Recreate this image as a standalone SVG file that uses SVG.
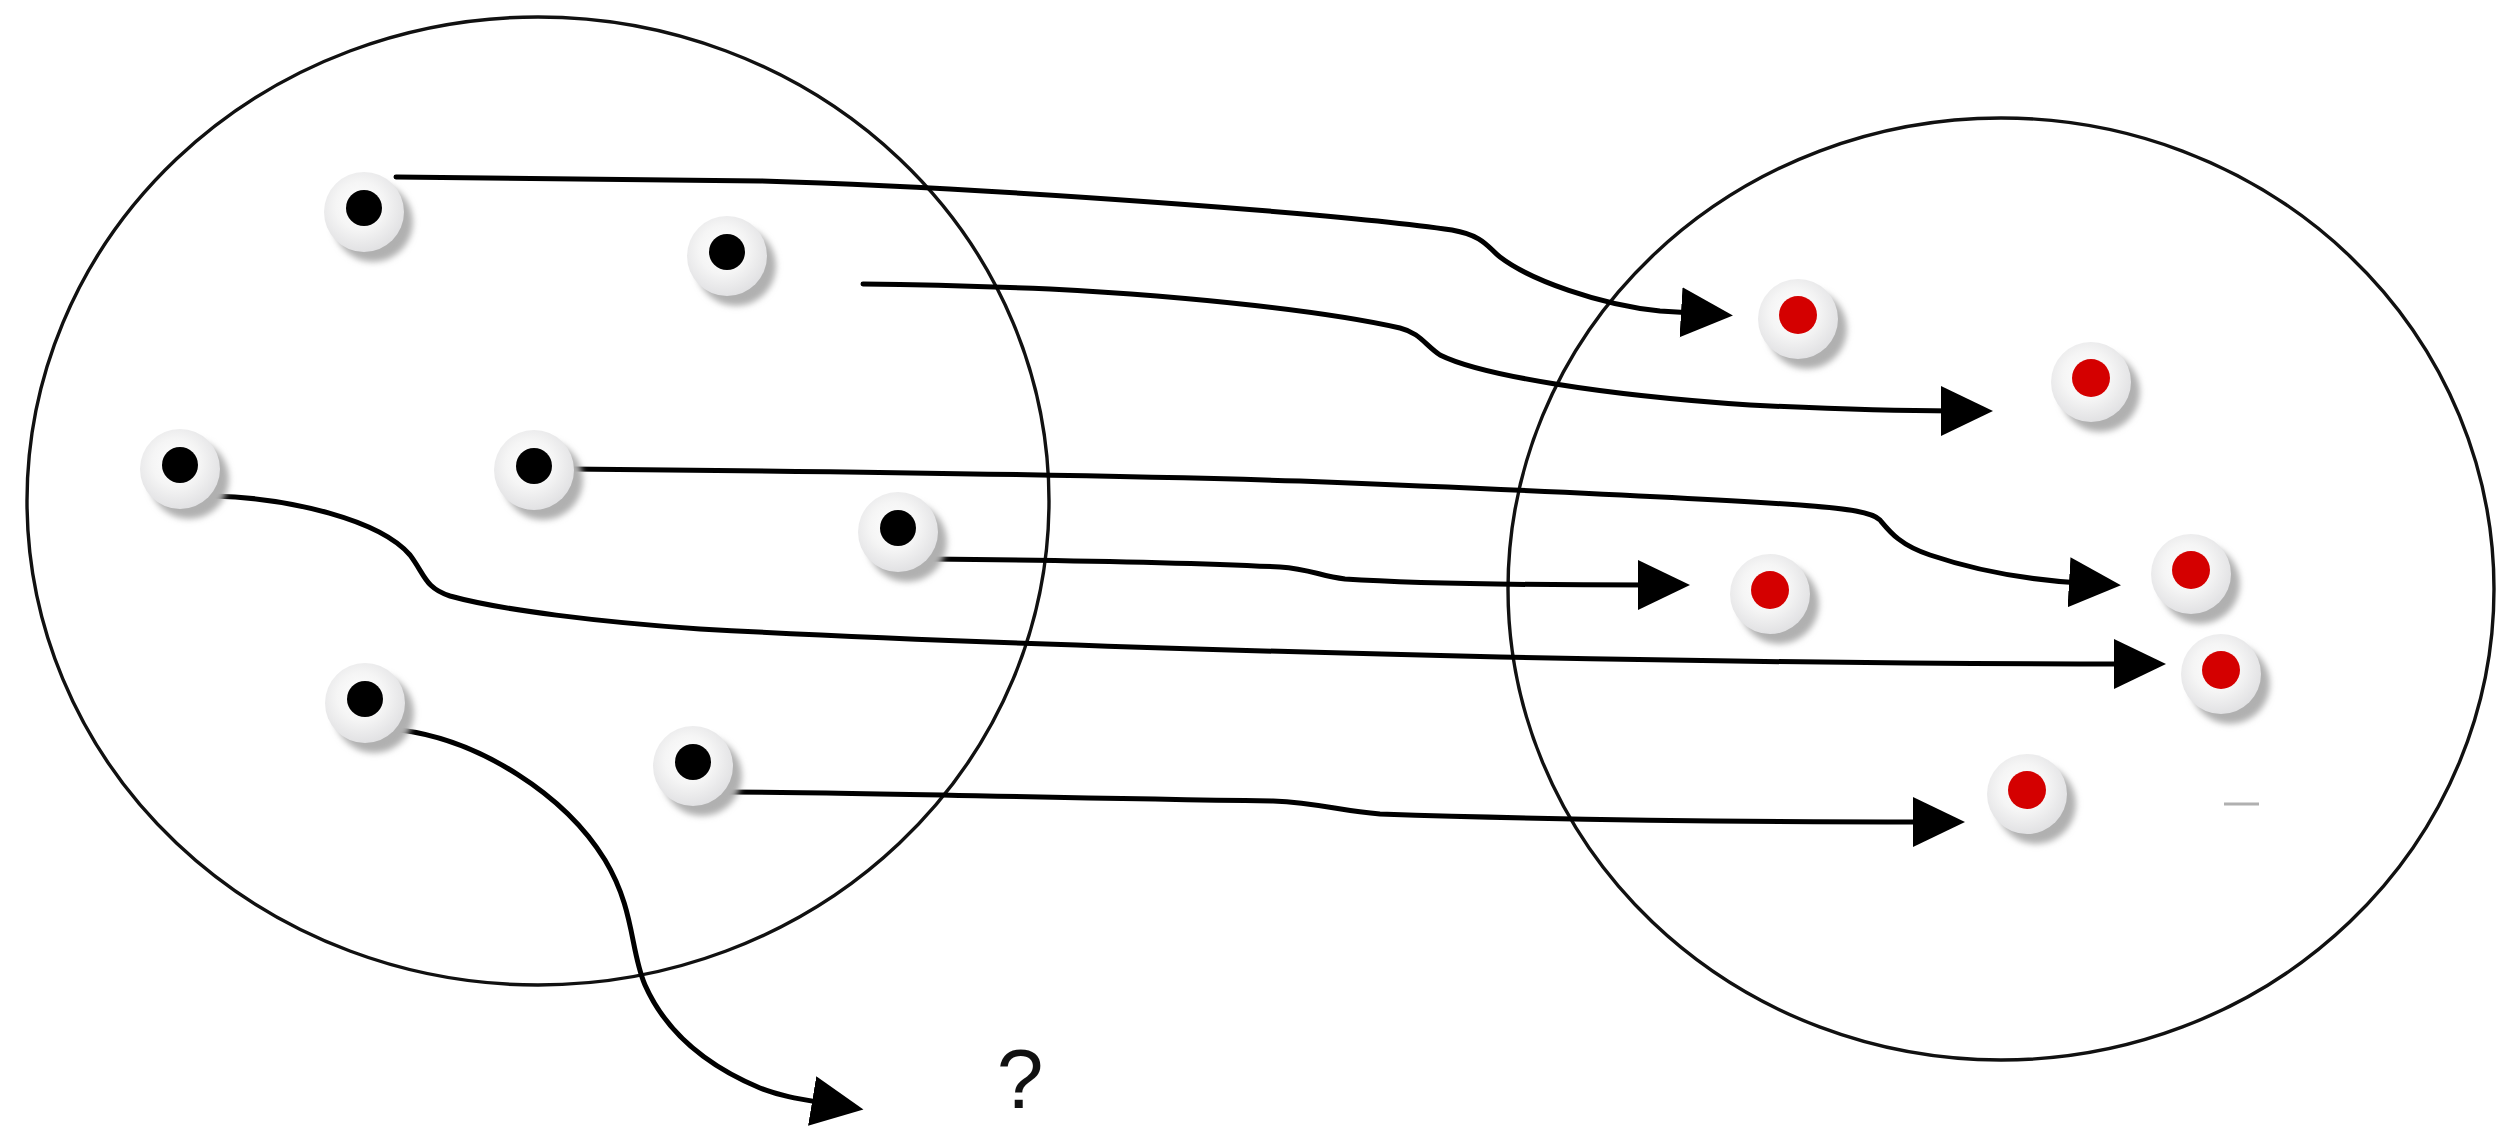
<svg xmlns="http://www.w3.org/2000/svg" width="2496" height="1139" viewBox="0 0 2496 1139">
<style>
.set{fill:none;stroke:#111;stroke-width:3.4}
.conn{fill:none;stroke:#000;stroke-width:5;stroke-linecap:round;stroke-linejoin:round}
.sh{fill:#b0b0b0;filter:url(#blur)}
.disk{fill:url(#dg)}
.bdot{fill:#000}
.rdot{fill:#d40000}
.q{font-family:"Liberation Sans",Arial,sans-serif;font-size:84px;fill:#111}
</style>
<defs>
<filter id="blur" x="-50%" y="-50%" width="200%" height="200%"><feGaussianBlur stdDeviation="3"/></filter>
<radialGradient id="dg" cx="0.45" cy="0.42" r="0.6">
<stop offset="0" stop-color="#ffffff"/>
<stop offset="0.5" stop-color="#f5f5f5"/>
<stop offset="1" stop-color="#e0e0e2"/>
</radialGradient>
<marker id="arr" markerUnits="userSpaceOnUse" markerWidth="54" markerHeight="52" refX="12" refY="25" orient="auto" viewBox="0 0 54 52">
<path d="M0,0 L52,25 L0,50 Z" fill="#000"/>
</marker>
</defs>
<rect width="2496" height="1139" fill="#fff"/>
<g id="sets">
<ellipse id="domain" class="set" cx="538" cy="501" rx="511" ry="484"/>
<ellipse id="codomain" class="set" cx="2001" cy="589" rx="493" ry="471"/>
</g>
<g id="connectors">
<path class="conn" marker-end="url(#arr)" d="M396,177 L760,181 C1000,188 1350,215 1452,230 C1485,236 1488,248 1500,257 C1530,280 1600,305 1660,311 L1693,313"/>
<path class="conn" marker-end="url(#arr)" d="M863,284 C950,285 1000,287 1050,289 C1200,297 1330,312 1400,328 C1420,333 1425,345 1440,355 C1480,375 1600,395 1750,405 C1850,410 1900,411 1953,411"/>
<path class="conn" marker-end="url(#arr)" d="M568,469 C800,471 1100,475 1300,481 C1500,489 1700,498 1800,505 C1850,509 1872,512 1880,520 C1890,532 1900,545 1930,555 C1980,572 2030,580 2081,583"/>
<path class="conn" marker-end="url(#arr)" d="M930,559 C1050,560 1200,563 1280,567 C1310,569 1320,576 1345,579 C1420,584 1550,585 1650,585"/>
<path class="conn" marker-end="url(#arr)" d="M214,496 C290,498 380,520 410,555 C425,575 425,588 450,596 C500,610 600,622 700,629 C900,640 1200,650 1500,657 C1800,663 2000,664 2126,664"/>
<path class="conn" marker-end="url(#arr)" d="M400,730 C480,740 565,795 605,860 C635,910 630,950 645,985 C665,1030 705,1065 760,1088 C780,1096 800,1099 824,1103"/>
<path class="conn" marker-end="url(#arr)" d="M727,792 C850,792 1000,797 1273,801 C1320,803 1340,811 1380,814 C1500,818 1700,822 1925,822"/>
</g>
<g id="n1"><circle class="sh" cx="373" cy="222" r="40"/><circle class="disk" cx="364" cy="212" r="40"/><circle class="bdot" cx="364" cy="208" r="18"/></g>
<g id="n2"><circle class="sh" cx="736" cy="266" r="40"/><circle class="disk" cx="727" cy="256" r="40"/><circle class="bdot" cx="727" cy="252" r="18"/></g>
<g id="n3"><circle class="sh" cx="189" cy="479" r="40"/><circle class="disk" cx="180" cy="469" r="40"/><circle class="bdot" cx="180" cy="465" r="18"/></g>
<g id="n4"><circle class="sh" cx="543" cy="480" r="40"/><circle class="disk" cx="534" cy="470" r="40"/><circle class="bdot" cx="534" cy="466" r="18"/></g>
<g id="n5"><circle class="sh" cx="907" cy="542" r="40"/><circle class="disk" cx="898" cy="532" r="40"/><circle class="bdot" cx="898" cy="528" r="18"/></g>
<g id="n6"><circle class="sh" cx="374" cy="713" r="40"/><circle class="disk" cx="365" cy="703" r="40"/><circle class="bdot" cx="365" cy="699" r="18"/></g>
<g id="n7"><circle class="sh" cx="702" cy="776" r="40"/><circle class="disk" cx="693" cy="766" r="40"/><circle class="bdot" cx="693" cy="762" r="18"/></g>
<g id="r1"><circle class="sh" cx="1807" cy="329" r="40"/><circle class="disk" cx="1798" cy="319" r="40"/><circle class="rdot" cx="1798" cy="315" r="19"/></g>
<g id="r2"><circle class="sh" cx="2100" cy="392" r="40"/><circle class="disk" cx="2091" cy="382" r="40"/><circle class="rdot" cx="2091" cy="378" r="19"/></g>
<g id="r3"><circle class="sh" cx="1779" cy="604" r="40"/><circle class="disk" cx="1770" cy="594" r="40"/><circle class="rdot" cx="1770" cy="590" r="19"/></g>
<g id="r4"><circle class="sh" cx="2200" cy="584" r="40"/><circle class="disk" cx="2191" cy="574" r="40"/><circle class="rdot" cx="2191" cy="570" r="19"/></g>
<g id="r5"><circle class="sh" cx="2230" cy="684" r="40"/><circle class="disk" cx="2221" cy="674" r="40"/><circle class="rdot" cx="2221" cy="670" r="19"/></g>
<g id="r6"><circle class="sh" cx="2036" cy="804" r="40"/><circle class="disk" cx="2027" cy="794" r="40"/><circle class="rdot" cx="2027" cy="790" r="19"/></g>
<line x1="2224" y1="804" x2="2259" y2="804" stroke="#b0b0b0" stroke-width="3"/>
<text class="q" x="1020" y="1108" text-anchor="middle">?</text>
</svg>
